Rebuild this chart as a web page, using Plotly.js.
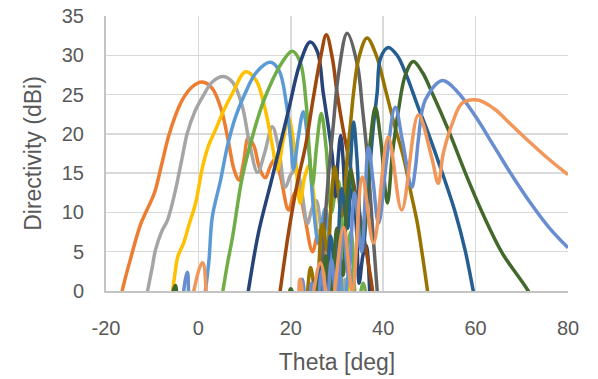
<!DOCTYPE html>
<html>
<head>
<meta charset="utf-8">
<script src="https://cdn.plot.ly/plotly-3.0.1.min.js"></script>
<style>html,body{margin:0;padding:0;background:#fff;}#chart{width:598px;height:379px;}</style>
</head>
<body>
<div id="chart"></div>
<script>
// Theta [deg] / Directivity [dBi] samples, one pair of arrays per beam
const thetaOrange = [-18, -16.5, -14.5, -12.5, -11, -9.5, -8, -6.5, -5, -3.5, -1.5, 0.8, 3, 5, 6.5, 7.7, 8.8, 9.8, 10.8, 12, 13.3, 14.5, 15.5, 16.6, 17.8, 19.5, 20.6, 21.6, 23, 24.7, 25.7, 26.6, 27.5, 28.3, 29.2, 30, 31];
const dirOrange   = [-5, 0, 4.5, 8.5, 10.5, 12.5, 16, 19.6, 22.3, 24.3, 25.9, 26.6, 25.8, 23, 19, 15.5, 14.1, 16.5, 19.5, 18.5, 15.5, 14.4, 15.8, 16.8, 14.5, 10.3, 12.2, 13, 9.5, 5, 7, 8, 4.5, -2, 1.5, 3, -5];

const thetaGray = [-12.5, -11, -10, -9.3, -8, -6.7, -5.5, -4.5, -3.5, -2.4, -0.8, 0.9, 3, 5.4, 7.5, 9.5, 11, 12.8, 14.3, 16, 17.4, 18.8, 20, 21.2, 22.4, 23.6, 24.6, 25.5, 26.4, 27.3, 28.1, 29, 30.5, 31.8, 33];
const dirGray   = [-5, 0, 3, 5.2, 7.5, 9, 11.5, 14.1, 17, 20.1, 22.8, 24.7, 26.6, 27.3, 26.5, 23.5, 19, 15.1, 17.5, 20.9, 18, 13.2, 14.8, 15.5, 12.5, 8.6, 10.5, 11.5, 8.5, 3, 5, 6, -3, 1.5, -5];

const thetaGold = [-7, -5.6, -5, -4.5, -3.2, -2, -0.6, 0.9, 2.2, 3.7, 5.5, 7.4, 10.2, 12.5, 14.5, 16, 17.1, 18.3, 19.5, 20.8, 22, 23, 24, 25, 26, 26.8, 27.5, 28.2, 29, 30.5, 31.7, 32.9, 34];
const dirGold   = [-5, 0, 2.5, 4.3, 6.1, 8.5, 11.2, 15.8, 18.5, 20.5, 23, 25.2, 27.9, 26.8, 23, 18.5, 15.4, 19, 22.1, 18, 11.2, 14.5, 16, 12, 6.5, 8.5, 9.5, 6, 0, 4, -3, 2.3, -5];

const thetaLightBlue = [0, 1.5, 2.3, 3, 4.8, 6.3, 8, 10, 12.5, 15.6, 17.5, 19, 20, 20.6, 21.6, 22.7, 23.8, 25, 26, 26.8, 27.5, 28.2, 29, 30.3, 31.5, 32.7, 33.7];
const dirLightBlue   = [-5, 0, 4, 9.4, 14.1, 18.5, 22.1, 25, 27.8, 29.1, 28, 24, 19, 15.5, 19.5, 22.8, 18.5, 10, 6, 9, 10.5, 7, 1, 6, -2, 3, -5];

const thetaGreen = [4, 5.3, 6.3, 7.4, 9.5, 12.3, 14, 16, 18, 20.3, 22, 23.3, 24, 24.7, 25.6, 26.6, 27.6, 28.8, 29.6, 30.3, 31, 31.7, 33, 34.3, 35.7, 36.7];
const dirGreen   = [-5, 0, 3.5, 6.9, 14.5, 20.9, 24, 26.8, 29, 30.5, 29.2, 24, 18, 13.5, 18.5, 22.6, 18.5, 10, 12.5, 14, 10, 4, 7.5, -2, 1, -5];

const thetaNavy = [9.5, 10.8, 13, 16, 19.5, 22, 24.2, 25.8, 27, 28.1, 29, 29.7, 30.2, 30.8, 31.4, 32, 32.7, 33.5, 34.2, 34.8, 35.6, 36.3, 37.3];
const dirNavy   = [-5, 0, 7.4, 14.5, 23, 29, 31.7, 30.4, 25.3, 21, 17, 12, 16.5, 19.8, 16, 9, 11.5, 13, 8, 1, 4.5, 5.8, -5];

const thetaBrown = [16.5, 17.7, 19.5, 21.4, 23.2, 24.8, 26.4, 27.7, 29, 30, 31.2, 33, 35, 36.5, 37.7, 38.5];
const dirBrown   = [-5, 0, 7.4, 13.7, 18.5, 24.3, 29.6, 32.6, 29.6, 25.3, 21, 15.5, 9.5, 4.5, 0, -5];

const thetaDarkGray = [25.5, 26.4, 27.3, 28.2, 29.2, 30.3, 32.2, 34.4, 35.5, 36.6, 37.7, 38.7, 39.3];
const dirDarkGray   = [-5, 0, 8, 15, 21.1, 27.5, 32.8, 28.8, 23.3, 16.9, 8, 0, -5];

const thetaDarkGold = [23.2, 24.3, 25.5, 26.8, 28, 28.7, 29.5, 30.2, 31, 31.6, 32.2, 32.9, 33.6, 34.7, 36.5, 38.5, 40.5, 42.5, 44.4, 46, 47.4, 48.5, 49.6, 50.5];
const dirDarkGold   = [-5, 3, -1, 8.5, 5, 11, 15.8, 13, 9.5, 12, 17, 21.1, 25.3, 29.6, 32.2, 30, 25.6, 21, 17, 12.5, 8.6, 4.5, 0, -4];

const thetaSteelBlue = [25.2, 26.3, 27.5, 28.6, 29.8, 31, 32.3, 33, 33.6, 34.3, 35.5, 37, 37.9, 38.7, 39.4, 41.1, 43, 45, 47.5, 49.8, 52.8, 55.6, 57.8, 59.5, 60.5];
const dirSteelBlue   = [-5, 3, -3, 7, 2, 13, 8, 17, 21.5, 17, 5, 15, 21.1, 25.3, 29.6, 31, 30, 27.5, 23.5, 20, 15, 10, 5, 0, -3];

const thetaDarkGreen = [-6.5, -5, -3.5, 2, 10, 18, 20, 22, 24, 25.2, 26.3, 27.6, 28.7, 30, 31.3, 32.1, 32.9, 33.8, 35.6, 37.2, 38.3, 39.5, 40.9, 42, 43.3, 44.8, 46.5, 48.5, 50.6, 54.1, 57.8, 61.5, 65.8, 71.4, 74];
const dirDarkGreen   = [-4, 0.7, -4, -5, -5, -5, 0.3, -5, -4, 1.5, -4, 4.5, -1, 8, 2, 11, 15.4, 12, 7, 19, 23.4, 19, 11.2, 17.5, 23, 27.5, 29.2, 27.8, 25.2, 20.5, 15, 9.9, 4.8, 0, -3];

const thetaCornflower = [-4, -2.4, -0.8, 5, 12, 20, 21.5, 22.5, 23.6, 24.5, 25.5, 26.7, 27.7, 28.8, 30, 31.2, 32.5, 33.8, 35.3, 36.8, 37.8, 39, 40.8, 42.6, 44.2, 46.2, 47, 47.6, 49.1, 52.8, 56, 60, 64, 68, 72, 76, 80];
const dirCornflower   = [-5, 2.4, -5, -5, -5, -5, -4, 1.5, -4, 1, -4, 2.5, -3, 4, -2, 8, 2, 12.5, 5, 18.3, 14, 8.6, 17, 23.4, 19, 13.2, 15.8, 19.2, 24.3, 26.8, 25.4, 22.2, 18.4, 14.6, 11.1, 8, 5.5];

const thetaPeach = [-2.5, 0.9, 3.5, 10, 15, 20.5, 22, 23.5, 26.4, 28.5, 31.4, 33.3, 35.5, 37.9, 41.1, 44, 47.6, 50.5, 51.9, 53, 55, 57.1, 60.4, 64, 68, 72, 76, 80];
const dirPeach   = [-5, 3.6, -5, -5, -5, -5, 1.5, -4, 3.6, -3, 8.1, 0, 14.5, 6.1, 19.6, 10.3, 22.4, 17, 13.7, 17.5, 21.4, 23.9, 24.3, 23.2, 21, 18.8, 16.7, 14.8];

const seriesX = [thetaOrange, thetaGray, thetaGold, thetaLightBlue, thetaGreen, thetaNavy, thetaBrown, thetaDarkGray, thetaDarkGold, thetaSteelBlue, thetaDarkGreen, thetaCornflower, thetaPeach];
const seriesY = [dirOrange, dirGray, dirGold, dirLightBlue, dirGreen, dirNavy, dirBrown, dirDarkGray, dirDarkGold, dirSteelBlue, dirDarkGreen, dirCornflower, dirPeach];
const seriesColors = ['#ED7D31', '#A5A5A5', '#FFC000', '#5B9BD5', '#70AD47', '#264478', '#9E480E', '#636363', '#997300', '#255E91', '#43682B', '#698ED0', '#F1975A'];

const xTicks = [-20, 0, 20, 40, 60, 80];
const yTicks = [0, 5, 10, 15, 20, 25, 30, 35];

const traces = seriesX.map((xs, i) => ({
  x: xs, y: seriesY[i], type: 'scatter', mode: 'lines',
  line: {color: seriesColors[i], width: 3.5, shape: 'spline', smoothing: 1},
  showlegend: false, hoverinfo: 'skip'
}));

const fontFam = '"Liberation Sans", Arial, sans-serif';
const layout = {
  width: 598, height: 379,
  margin: {l: 106, r: 30, t: 16, b: 88},
  paper_bgcolor: '#ffffff', plot_bgcolor: '#ffffff',
  font: {family: fontFam, color: '#595959'},
  xaxis: {
    range: [-20, 80], tickvals: xTicks, ticktext: xTicks.map(String),
    showgrid: true, gridcolor: '#d9d9d9', gridwidth: 1.5, zeroline: false,
    showline: true, linecolor: '#c4c4c4', linewidth: 2, ticks: '',
    tickfont: {size: 20, color: '#595959', family: fontFam},
    ticklabelstandoff: 18,
    title: {text: 'Theta [deg]', font: {size: 23, color: '#595959', family: fontFam}, standoff: 16}
  },
  yaxis: {
    range: [0, 35], tickvals: yTicks, ticktext: yTicks.map(String),
    showgrid: true, gridcolor: '#d9d9d9', gridwidth: 1.5, zeroline: false,
    showline: true, linecolor: '#c4c4c4', linewidth: 2, ticks: '',
    tickfont: {size: 20, color: '#595959', family: fontFam},
    ticklabelstandoff: 16,
    title: {text: 'Directivity (dBi)', font: {size: 23, color: '#595959', family: fontFam}, standoff: 14}
  }
};

Plotly.newPlot('chart', traces, layout, {staticPlot: true, displayModeBar: false});
</script>
</body>
</html>
